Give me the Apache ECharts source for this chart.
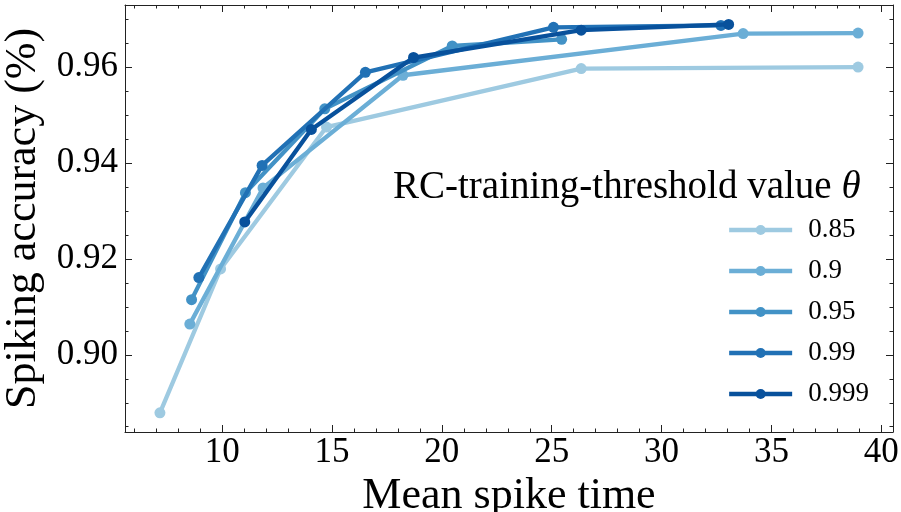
<!DOCTYPE html>
<html><head><meta charset="utf-8">
<script src="https://cdn.jsdelivr.net/npm/echarts@6/dist/echarts.min.js"></script>
<style>html,body{margin:0;padding:0;background:#fff}#c{width:901px;height:512px}</style>
</head><body><div id="c"></div>
<script>
// ---- data ----
const thresholds = ['0.85', '0.9', '0.95', '0.99', '0.999'];
const x085 = [7.17, 9.93, 14.75, 26.34, 38.94];
const y085 = [0.8879, 0.9179, 0.9475, 0.9597, 0.9600];
const x090 = [8.53, 11.86, 18.23, 33.71, 38.94];
const y090 = [0.9064, 0.9348, 0.9583, 0.9670, 0.9671];
const x095 = [8.61, 11.06, 14.67, 20.47, 25.45];
const y095 = [0.9115, 0.9338, 0.9513, 0.9644, 0.9658];
const x099 = [8.94, 11.82, 16.52, 25.08, 32.70];
const y099 = [0.9161, 0.9395, 0.9589, 0.9683, 0.9687];
const x0999 = [11.03, 14.06, 18.71, 26.34, 33.05];
const y0999 = [0.9277, 0.9470, 0.9620, 0.9677, 0.9689];
const xMajorTicks = [10, 15, 20, 25, 30, 35, 40];
const xMinorTicks = [6, 7, 8, 9, 11, 12, 13, 14, 16, 17, 18, 19, 21, 22, 23, 24, 26, 27, 28, 29, 31, 32, 33, 34, 36, 37, 38, 39];
const yMajorTicks = [0.90, 0.92, 0.94, 0.96];
const yMinorTicks = [0.885, 0.89, 0.895, 0.905, 0.91, 0.915, 0.925, 0.93, 0.935, 0.945, 0.95, 0.955, 0.965, 0.97];

// ---- style ----
const colors = ['#9ecae1', '#6baed6', '#4292c6', '#2171b5', '#08519c'];
const FONT = '"Liberation Serif", "DejaVu Serif", serif';
const xMin = 5.58, xMax = 40.53, yMin = 0.8839, yMax = 0.97295;
const axisColor = '#222';

const xs = [x085, x090, x095, x099, x0999];
const ys = [y085, y090, y095, y099, y0999];

function xAxisDef(pos, major) {
  return {
    type: 'value', position: pos, min: xMin, max: xMax, gridIndex: 0,
    axisLine: { show: major, onZero: false, lineStyle: { color: axisColor, width: 1 } },
    axisTick: { show: true, inside: true, length: major ? 7 : 3.5, customValues: major ? xMajorTicks : xMinorTicks, lineStyle: { color: axisColor, width: 1 } },
    axisLabel: (pos === 'bottom' && major) ? { show: true, customValues: xMajorTicks, fontSize: 35, fontFamily: FONT, color: '#000', margin: 3 } : { show: false },
    splitLine: { show: false },
    name: (pos === 'bottom' && major) ? 'Mean spike time' : '',
    nameLocation: 'middle', nameGap: 27,
    nameTextStyle: { fontSize: 44, fontFamily: FONT, color: '#000' }
  };
}
function yAxisDef(pos, major) {
  return {
    type: 'value', position: pos, min: yMin, max: yMax, gridIndex: 0,
    axisLine: { show: major, onZero: false, lineStyle: { color: axisColor, width: 1 } },
    axisTick: { show: true, inside: true, length: major ? 7 : 3.5, customValues: major ? yMajorTicks : yMinorTicks, lineStyle: { color: axisColor, width: 1 } },
    axisLabel: (pos === 'left' && major) ? { show: true, customValues: yMajorTicks, fontSize: 35, fontFamily: FONT, color: '#000', margin: 7, formatter: v => v.toFixed(2) } : { show: false },
    splitLine: { show: false },
    name: (pos === 'left' && major) ? 'Spiking accuracy (%)' : '',
    nameLocation: 'middle', nameGap: 65, nameRotate: 90,
    nameTextStyle: { fontSize: 44, fontFamily: FONT, color: '#000' }
  };
}

const series = thresholds.map((name, i) => ({
  name: name, type: 'line', xAxisIndex: 0, yAxisIndex: 0,
  data: xs[i].map((v, j) => [v, ys[i][j]]),
  symbol: 'circle', symbolSize: 11, showSymbol: true,
  lineStyle: { width: 4.3, color: colors[i] },
  itemStyle: { color: colors[i] },
  emphasis: { disabled: true },
  z: 2 + i
}));

const chart = echarts.init(document.getElementById('c'), null, { renderer: 'canvas' });
chart.setOption({
  animation: false,
  backgroundColor: '#fff',
  grid: { left: 125, right: 8, top: 5, bottom: 80, containLabel: false, outerBoundsMode: 'none' },
  title: {
    text: 'RC-training-threshold value {i|θ}', left: 388, top: 163,
    textStyle: { fontSize: 39, fontFamily: FONT, fontWeight: 'normal', color: '#000',
      rich: { i: { fontStyle: 'italic', fontSize: 39, fontFamily: FONT, color: '#000' } } }
  },
  legend: {
    orient: 'vertical', left: 722, top: 210,
    itemWidth: 63, itemHeight: 12.5, itemGap: 11,
    lineStyle: { width: 4.3 },
    textStyle: { fontSize: 27, fontFamily: FONT, color: '#000', lineHeight: 30, padding: [0, 0, 0, 11] },
    data: thresholds
  },
  xAxis: [xAxisDef('bottom', true), xAxisDef('bottom', false), xAxisDef('top', true), xAxisDef('top', false)],
  yAxis: [yAxisDef('left', true), yAxisDef('left', false), yAxisDef('right', true), yAxisDef('right', false)],
  series: series
});
</script></body></html>
